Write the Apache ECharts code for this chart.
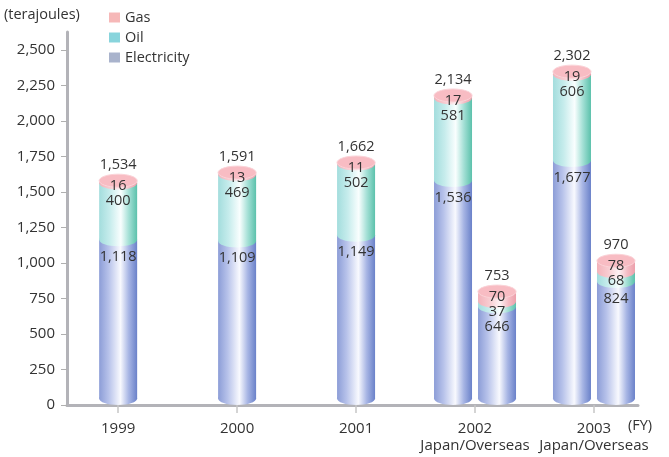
<!DOCTYPE html>
<html>
<head>
<meta charset="utf-8">
<script src="https://cdn.jsdelivr.net/npm/echarts@6/dist/echarts.min.js"></script>
<style>
  html, body { margin: 0; padding: 0; background: #fff; }
  #chart { width: 669px; height: 457px; }
</style>
</head>
<body>
<div id="chart"></div>
<script>
// Fiscal years on the x axis; 2002 and 2003 are split into Japan / Overseas bars
const categories = ['1999', '2000', '2001', '2002', '2003'];
const categorySubLabels = ['', '', '', 'Japan/Overseas', 'Japan/Overseas'];
const yTicks = [0, 250, 500, 750, 1000, 1250, 1500, 1750, 2000, 2250, 2500];

// One entry per bar: which year it belongs to and which side of the tick it sits on
const barCategory = [0, 1, 2, 3, 3, 4, 4];
const barSide = [0, 0, 0, -1, 1, -1, 1];

// Energy use in terajoules
const electricity = [1118, 1109, 1149, 1536, 646, 1677, 824];
const oil = [400, 469, 502, 581, 37, 606, 68];
const gas = [16, 13, 11, 17, 70, 19, 78];
const totals = [1534, 1591, 1662, 2134, 753, 2302, 970];

const FONT = '"Open Sans", "Noto Sans", sans-serif';
const TEXT = '#333333';
const HALF_W = 19;      // half of a cylinder's width
const RY = 6.5;         // vertical radius of the elliptical caps
const SIDE_OFFSET = 22; // horizontal shift of paired bars

const styles = {
  Electricity: {
    legend: '#a9b3cc',
    stops: [[0, '#8c9dd7'], [0.25, '#b7c2ea'], [0.56, '#f8f9fe'], [0.78, '#a7b5e4'], [1, '#6a81c9']]
  },
  Oil: {
    legend: '#88d4dc',
    stops: [[0, '#a3dddd'], [0.28, '#c6ecec'], [0.57, '#f9fefe'], [0.78, '#a5e0d6'], [1, '#5bc1ab']]
  },
  Gas: {
    legend: '#f6b8b8',
    stops: [[0, '#f3b2ba'], [0.3, '#f8ccd1'], [0.57, '#fdf1f3'], [0.8, '#f5bdc5'], [1, '#ec9fab']]
  }
};

function stackBelow(layers, i) {
  return layers.reduce((s, arr) => s + arr[i], 0);
}

function gradient(stops) {
  return new echarts.graphic.LinearGradient(0, 0, 1, 0,
    stops.map(s => ({ offset: s[0], color: s[1] })));
}

function cylinderSeries(name, values, lowerLayers, isTop) {
  const st = styles[name];
  return {
    name: name,
    type: 'custom',
    itemStyle: { color: st.legend },
    encode: { x: 0, y: [1, 2] },
    data: values.map((v, i) => {
      const base = stackBelow(lowerLayers, i);
      return [barCategory[i], base, base + v, barSide[i]];
    }),
    renderItem: function (params, api) {
      const cat = api.value(0);
      const cx = api.coord([cat, 0])[0] + api.value(3) * SIDE_OFFSET;
      const yB = api.coord([cat, api.value(1)])[1] - RY;
      const yT = api.coord([cat, api.value(2)])[1] - RY;
      const fill = gradient(st.stops);
      const children = [
        { type: 'rect', shape: { x: cx - HALF_W, y: yT, width: HALF_W * 2, height: Math.max(0, yB - yT) }, style: { fill: fill } },
        { type: 'ellipse', shape: { cx: cx, cy: yB, rx: HALF_W, ry: RY }, style: { fill: fill } }
      ];
      if (isTop) {
        children.push({ type: 'ellipse', shape: { cx: cx, cy: yT, rx: HALF_W, ry: RY },
          style: { fill: '#f8bcc3', stroke: '#fbd3d8', lineWidth: 1 } });
      }
      return { type: 'group', children: children };
    }
  };
}

function fmt(v) { return v.toLocaleString('en-US'); }

// Value labels drawn over the cylinders
const labelSeries = {
  name: 'values',
  type: 'custom',
  z: 5,
  encode: { x: 0, y: 1 },
  data: totals.map((t, i) => [barCategory[i], t, barSide[i], gas[i], oil[i], electricity[i]]),
  renderItem: function (params, api) {
    const cat = api.value(0);
    const cx = api.coord([cat, 0])[0] + api.value(2) * SIDE_OFFSET;
    const topC = api.coord([cat, api.value(1)])[1] - RY;
    const elecTop = api.coord([cat, api.value(5)])[1] - RY;
    const gasY = topC + 5;
    const oilY = gasY + 15;
    const elecY = Math.max(elecTop + 17, oilY + 15);
    const txt = (s, y) => ({ type: 'text', style: { text: s, x: cx, y: y, align: 'center', verticalAlign: 'middle',
      fill: TEXT, font: '14.5px ' + FONT } });
    return { type: 'group', children: [
      txt(fmt(api.value(1)), topC - RY - 9),
      txt(fmt(api.value(3)), gasY),
      txt(fmt(api.value(4)), oilY),
      txt(fmt(api.value(5)), elecY)
    ] };
  }
};

const chart = echarts.init(document.getElementById('chart'), null, { renderer: 'canvas' });
chart.setOption({
  animation: false,
  backgroundColor: '#ffffff',
  textStyle: { fontFamily: FONT },
  grid: { left: 67, right: 31, top: 32, bottom: 52, containLabel: false },
  legend: {
    orient: 'vertical', left: 104, top: 5,
    itemWidth: 11, itemHeight: 10, itemGap: 5,
    icon: 'rect',
    data: ['Gas', 'Oil', 'Electricity'],
    textStyle: { color: TEXT, fontSize: 14.5, lineHeight: 15, fontFamily: FONT }
  },
  graphic: [
    { type: 'text', left: 4, top: 7, style: { text: '(terajoules)', fill: TEXT, font: '14.5px ' + FONT } },
    { type: 'text', left: 628, top: 418, style: { text: '(FY)', fill: TEXT, font: '14.5px ' + FONT } }
  ],
  xAxis: {
    type: 'value', min: -0.43, max: 4.37,
    splitLine: { show: false },
    axisLine: { show: true, onZero: false, lineStyle: { color: '#b3b3b8', width: 3 } },
    axisTick: { show: true, customValues: [0, 1, 2, 3, 4], length: 8, lineStyle: { color: '#c6c6c6', width: 1.5 } },
    axisLabel: {
      customValues: [0, 1, 2, 3, 4], margin: 15,
      color: TEXT, fontSize: 15, lineHeight: 17, fontFamily: FONT,
      formatter: v => categories[v] + (categorySubLabels[v] ? '\n' + categorySubLabels[v] : '')
    }
  },
  yAxis: {
    type: 'value', min: 0, max: 2627,
    splitLine: { show: false },
    axisLine: { show: true, onZero: false, lineStyle: { color: '#b3b3b8', width: 3 } },
    axisTick: { show: true, customValues: yTicks, length: 6, lineStyle: { color: '#b0b0b0', width: 1 } },
    axisLabel: {
      customValues: yTicks, margin: 12,
      color: TEXT, fontSize: 15, fontFamily: FONT,
      formatter: v => fmt(v)
    }
  },
  series: [
    cylinderSeries('Electricity', electricity, [], false),
    cylinderSeries('Oil', oil, [electricity], false),
    cylinderSeries('Gas', gas, [electricity, oil], true),
    labelSeries
  ]
});
</script>
</body>
</html>
